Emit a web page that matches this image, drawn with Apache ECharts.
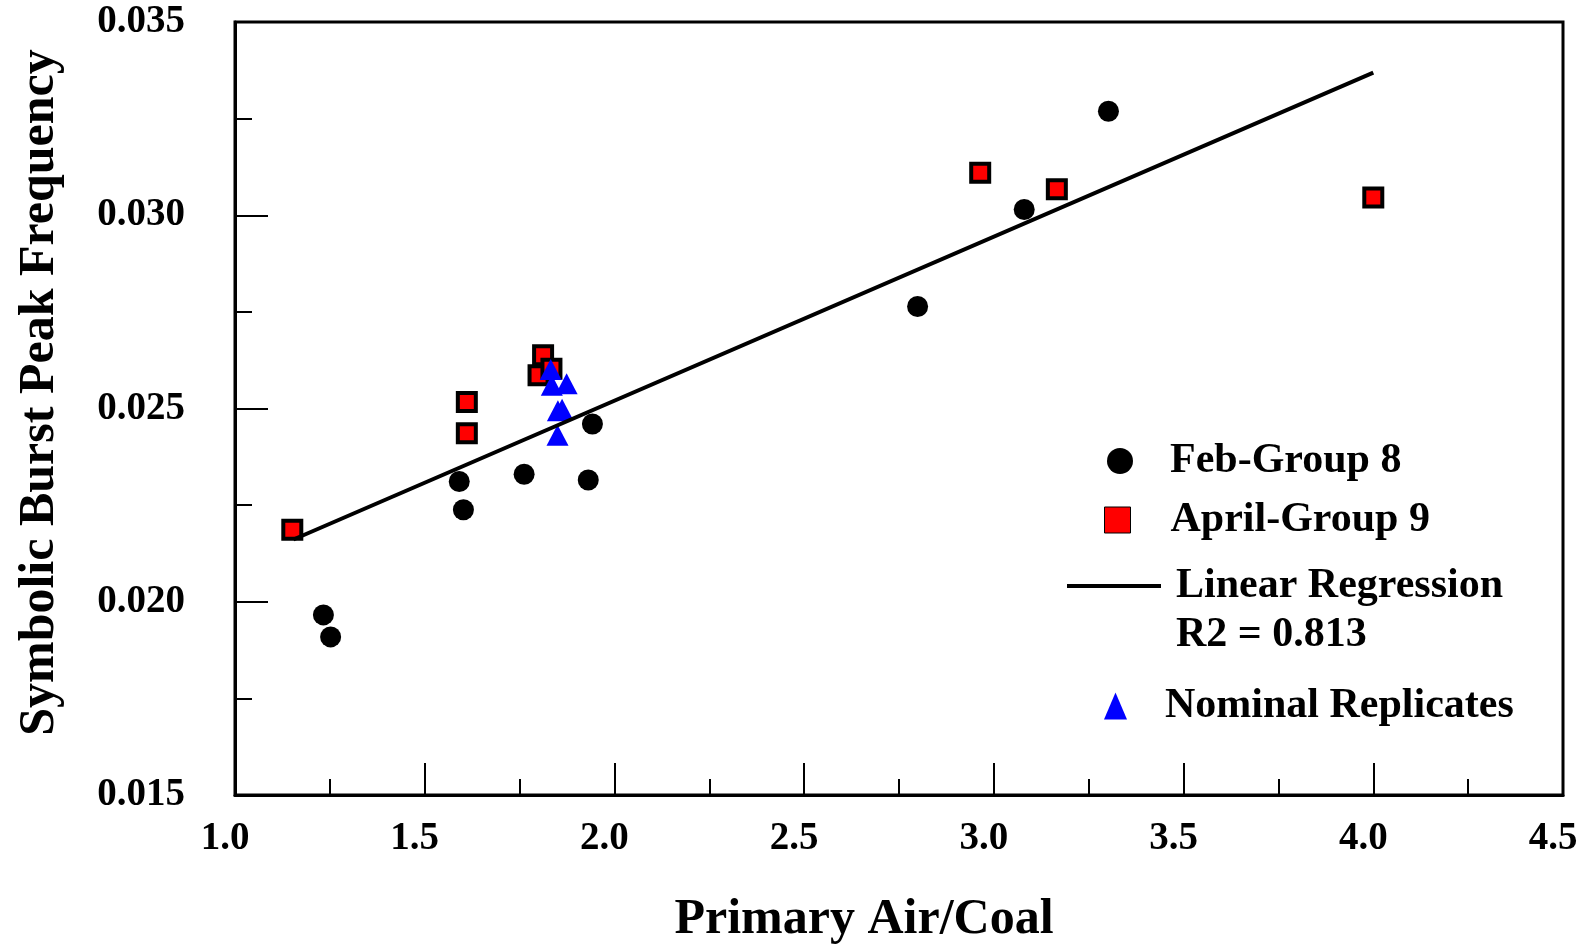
<!DOCTYPE html>
<html>
<head>
<meta charset="utf-8">
<title>Symbolic Burst Peak Frequency vs Primary Air/Coal</title>
<script src="https://cdn.jsdelivr.net/npm/echarts@6/dist/echarts.min.js"></script>
<style>
  html, body { margin: 0; padding: 0; background: #fff; }
  #chart { width: 1590px; height: 950px; }
</style>
</head>
<body>
<div id="chart"></div>
<script>
// data: [air/coal ratio, peak frequency]
var febGroup8 = [
  [1.233, 0.01966], [1.252, 0.01909], [1.591, 0.02311], [1.602, 0.02238],
  [1.762, 0.02330], [1.931, 0.02315], [1.942, 0.02460], [2.799, 0.02764],
  [3.080, 0.03015], [3.302, 0.03269]
];
var aprilGroup9 = [
  [1.151, 0.02186], [1.611, 0.02517], [1.611, 0.02436], [1.812, 0.02638],
  [1.800, 0.02586], [1.834, 0.02603], [2.964, 0.03110], [3.166, 0.03067],
  [4.000, 0.03046]
];
var nominalReplicates = [
  [1.832, 0.02601], [1.835, 0.02560], [1.874, 0.02564], [1.851, 0.02494],
  [1.862, 0.02498], [1.850, 0.02431]
];
// regression line end points
var regressionLine = [[1.154, 0.02161], [4.000, 0.03369]];
var r2Text = 'R2 = 0.813';

var FONT = '"Liberation Serif", "Times New Roman", serif';

var chart = echarts.init(document.getElementById('chart'));

// one legend box per entry so each can sit where the original puts it
function legendBox(name, left, top, itemWidth, itemHeight, icon, textPad, itemStyle) {
  var item = { name: name, icon: icon };
  if (itemStyle) item.itemStyle = itemStyle;
  return {
    data: [item],
    left: left,
    top: top,
    padding: 0,
    itemWidth: itemWidth,
    itemHeight: itemHeight,
    selectedMode: false,
    symbolKeepAspect: false,
    textStyle: {
      fontFamily: FONT,
      fontWeight: 'bold',
      fontSize: 42,
      lineHeight: 44,
      color: '#000',
      padding: [0, 0, 0, textPad]
    }
  };
}

var option = {
  animation: false,
  backgroundColor: '#fff',
  grid: {
    left: 235,
    right: 27,
    top: 22,
    bottom: 152,
    show: true,
    borderColor: '#000',
    borderWidth: 3,
    backgroundColor: 'transparent'
  },
  title: {
    text: r2Text,
    left: 1176,
    top: 613,
    padding: 0,
    textStyle: {
      fontFamily: FONT,
      fontWeight: 'bold',
      fontSize: 42,
      lineHeight: 44,
      color: '#000'
    }
  },
  legend: [
    legendBox('Feb-Group 8', 1107, 439, 26, 26, 'circle', 32),
    legendBox('April-Group 9', 1104, 498, 26, 26, 'rect', 35,
      { color: '#ff0000', borderColor: '#000', borderWidth: 1 }),
    legendBox('Linear Regression', 1067, 564, 94, 4, 'rect', 10, { color: '#000' }),
    legendBox('Nominal Replicates', 1104, 684, 23, 27, 'triangle', 33)
  ],
  xAxis: {
    type: 'value',
    min: 1.0,
    max: 4.5,
    interval: 0.5,
    name: 'Primary Air/Coal',
    nameLocation: 'middle',
    nameGap: 100,
    nameTextStyle: {
      fontFamily: FONT,
      fontWeight: 'bold',
      fontSize: 50,
      color: '#000',
      padding: [0, 70, 0, 0]
    },
    axisLine: { lineStyle: { color: '#000', width: 3 } },
    axisTick: { inside: true, length: 32, lineStyle: { color: '#000', width: 2 } },
    minorTick: { show: true, splitNumber: 2, length: 16, lineStyle: { color: '#000', width: 2 } },
    splitLine: { show: false },
    axisLabel: {
      margin: 24,
      fontFamily: FONT,
      fontWeight: 'bold',
      fontSize: 39,
      color: '#000',
      padding: [0, 20, 0, 0],
      formatter: function (v) { return v.toFixed(1); }
    }
  },
  yAxis: {
    type: 'value',
    min: 0.015,
    max: 0.035,
    interval: 0.005,
    name: 'Symbolic Burst Peak Frequency',
    nameLocation: 'middle',
    nameGap: 170,
    nameTextStyle: {
      fontFamily: FONT,
      fontWeight: 'bold',
      fontSize: 50,
      color: '#000',
      padding: [0, 0, 0, 32]
    },
    axisLine: { lineStyle: { color: '#000', width: 3 } },
    axisTick: { inside: true, length: 33, lineStyle: { color: '#000', width: 2 } },
    minorTick: { show: true, splitNumber: 2, length: 17, lineStyle: { color: '#000', width: 2 } },
    splitLine: { show: false },
    axisLabel: {
      margin: 50,
      fontFamily: FONT,
      fontWeight: 'bold',
      fontSize: 39,
      color: '#000',
      formatter: function (v) { return v.toFixed(3); }
    }
  },
  series: [
    {
      name: 'Feb-Group 8',
      type: 'scatter',
      data: febGroup8,
      symbol: 'circle',
      symbolSize: 21,
      itemStyle: { color: '#000', opacity: 1 },
      z: 2
    },
    {
      name: 'April-Group 9',
      type: 'scatter',
      data: aprilGroup9,
      symbol: 'rect',
      symbolSize: 18,
      itemStyle: { color: '#ff0000', borderColor: '#000', borderWidth: 4, opacity: 1 },
      z: 2
    },
    {
      name: 'Nominal Replicates',
      type: 'scatter',
      data: nominalReplicates,
      symbol: 'triangle',
      symbolSize: [22, 21],
      itemStyle: { color: '#0000ff', opacity: 1 },
      z: 3
    },
    {
      name: 'Linear Regression',
      type: 'line',
      data: regressionLine,
      symbol: 'none',
      lineStyle: { color: '#000', width: 4 },
      itemStyle: { color: '#000' },
      z: 4
    }
  ]
};

chart.setOption(option);
</script>
</body>
</html>
